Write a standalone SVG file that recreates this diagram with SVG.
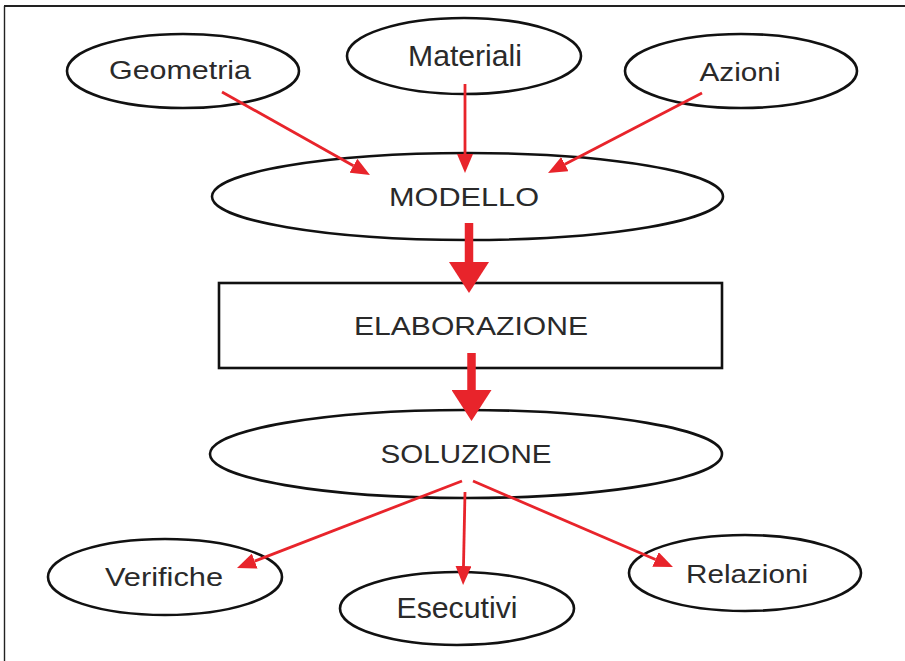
<svg xmlns="http://www.w3.org/2000/svg" width="905" height="661" viewBox="0 0 905 661">
  <style>
    .node { fill: #ffffff; stroke: #111111; stroke-width: 2.6; }
    .lbl { font-family: "Liberation Sans", Arial, sans-serif; fill: #2a2a2a; text-anchor: middle; }
    .thin { stroke: #e8242b; stroke-width: 2.8; fill: none; marker-end: url(#headThin); }
    .thick { stroke: #e8242b; stroke-width: 8.5; fill: none; marker-end: url(#headThick); }
    .frame { stroke: #222222; fill: none; }
  </style>
  <defs>
    <marker id="headThin" viewBox="0 -8 19 16" markerWidth="19" markerHeight="16" refX="0" refY="0" markerUnits="userSpaceOnUse" orient="auto">
      <path d="M0,-8 L19,0 L0,8 z" fill="#e8242b"/>
    </marker>
    <marker id="headThick" viewBox="0 -20 31 40" markerWidth="31" markerHeight="40" refX="0" refY="0" markerUnits="userSpaceOnUse" orient="auto">
      <path d="M0,-20 L31,0 L0,20 z" fill="#e8242b"/>
    </marker>
  </defs>
  <rect x="0" y="0" width="905" height="661" fill="#ffffff"/>
  <g id="frame">
    <line class="frame" x1="4" y1="6" x2="905" y2="6" stroke-width="2.2"/>
    <line class="frame" x1="4.5" y1="6" x2="4.5" y2="661" stroke-width="1.4"/>
  </g>

  <g id="geometria">
    <ellipse class="node" cx="183" cy="71" rx="116" ry="37"/>
    <text class="lbl" x="180" y="79" font-size="26" textLength="142" lengthAdjust="spacingAndGlyphs">Geometria</text>
  </g>
  <g id="materiali">
    <ellipse class="node" cx="464" cy="56" rx="117" ry="38"/>
    <text class="lbl" x="465" y="66" font-size="29" textLength="114" lengthAdjust="spacingAndGlyphs">Materiali</text>
  </g>
  <g id="azioni">
    <ellipse class="node" cx="741" cy="71" rx="116" ry="37"/>
    <text class="lbl" x="740" y="81" font-size="26" textLength="81" lengthAdjust="spacingAndGlyphs">Azioni</text>
  </g>
  <g id="modello">
    <ellipse class="node" cx="467.5" cy="196.5" rx="255.5" ry="43.5"/>
    <text class="lbl" x="464" y="206" font-size="25" textLength="150" lengthAdjust="spacingAndGlyphs">MODELLO</text>
  </g>
  <g id="elaborazione">
    <rect class="node" x="219" y="283" width="503" height="85"/>
    <text class="lbl" x="471" y="335" font-size="25" textLength="234" lengthAdjust="spacingAndGlyphs">ELABORAZIONE</text>
  </g>
  <g id="soluzione">
    <ellipse class="node" cx="466" cy="454" rx="256" ry="44"/>
    <text class="lbl" x="466" y="463" font-size="25" textLength="171" lengthAdjust="spacingAndGlyphs">SOLUZIONE</text>
  </g>
  <g id="verifiche">
    <ellipse class="node" cx="165" cy="577" rx="117" ry="38"/>
    <text class="lbl" x="164" y="586" font-size="26" textLength="118" lengthAdjust="spacingAndGlyphs">Verifiche</text>
  </g>
  <g id="esecutivi">
    <ellipse class="node" cx="457" cy="608.5" rx="117" ry="36.5"/>
    <text class="lbl" x="457" y="618" font-size="29" textLength="121" lengthAdjust="spacingAndGlyphs">Esecutivi</text>
  </g>
  <g id="relazioni">
    <ellipse class="node" cx="745" cy="573" rx="116" ry="38"/>
    <text class="lbl" x="747" y="583" font-size="26" textLength="122" lengthAdjust="spacingAndGlyphs">Relazioni</text>
  </g>

  <g id="connectors">
    <line class="thin" x1="222" y1="92" x2="353.4" y2="165.7"/>
    <line class="thin" x1="465" y1="84" x2="465" y2="154"/>
    <line class="thin" x1="702" y1="93" x2="564.9" y2="164.2"/>
    <line class="thick" x1="469" y1="223" x2="469" y2="262"/>
    <line class="thick" x1="471.5" y1="353" x2="471.5" y2="390"/>
    <line class="thin" x1="462" y1="481" x2="254.7" y2="561.1"/>
    <line class="thin" x1="465" y1="492" x2="463.5" y2="566"/>
    <line class="thin" x1="473" y1="481" x2="655.5" y2="559.5"/>
  </g>
</svg>
